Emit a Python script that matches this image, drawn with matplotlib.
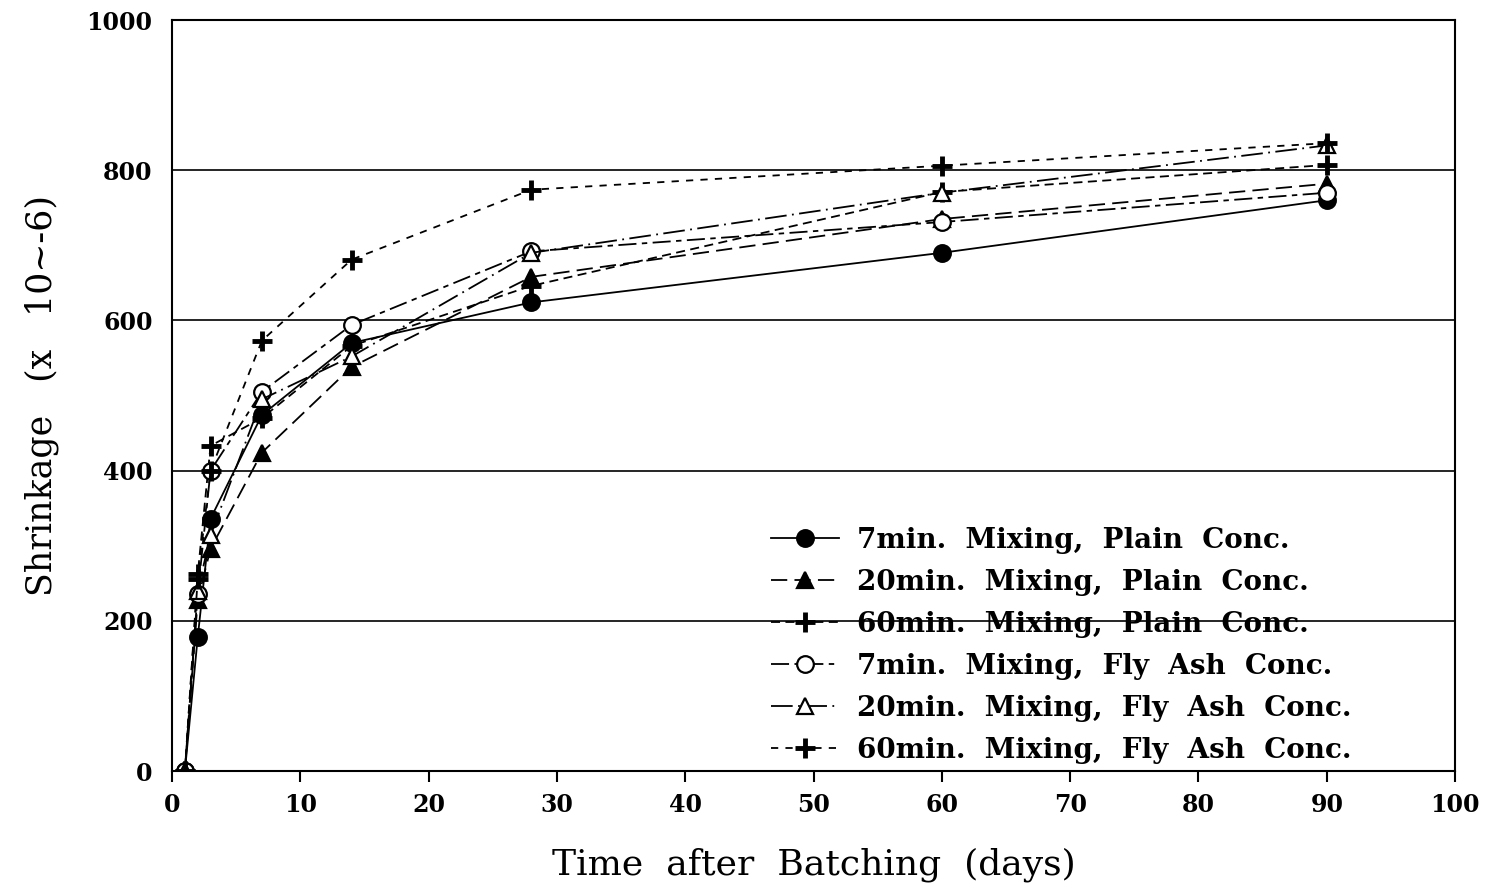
import numpy as np
import matplotlib.pyplot as plt

# days after batching
days = [1, 2, 3, 7, 14, 28, 60, 90]

# shrinkage readings (x 10^-6)
plain_7 = [0, 178, 336, 474, 570, 624, 690, 760]
plain_20 = [0, 228, 296, 424, 538, 658, 735, 782]
plain_60 = [0, 262, 433, 470, 566, 646, 771, 807]
fly_7 = [0, 236, 400, 505, 594, 692, 731, 770]
fly_20 = [0, 240, 314, 495, 552, 690, 770, 833]
fly_60 = [0, 256, 400, 573, 681, 774, 806, 836]

labels = ['7min.  Mixing,  Plain  Conc.',
          '20min.  Mixing,  Plain  Conc.',
          '60min.  Mixing,  Plain  Conc.',
          '7min.  Mixing,  Fly  Ash  Conc.',
          '20min.  Mixing,  Fly  Ash  Conc.',
          '60min.  Mixing,  Fly  Ash  Conc.']

series = [plain_7, plain_20, plain_60, fly_7, fly_20, fly_60]
markers = ['o', '^', '+', 'o', '^', '+']
filled = [True, True, True, False, False, False]
dashes = [None, (9, 4), (5, 3), (10, 3, 3, 3), (12, 3, 1, 3), (4, 4)]

plt.rcParams['font.family'] = ['DejaVu Serif']

fig = plt.figure(figsize=(14.91, 8.85), dpi=100)
ax = fig.add_axes([0.1154, 0.1288, 0.8605, 0.8486])

for y, m, f, d, lab in zip(series, markers, filled, dashes, labels):
    if m == '+':
        kw = dict(markersize=14, markeredgewidth=3.5)
    else:
        kw = dict(markersize=12, markeredgewidth=1.6)
    line, = ax.plot(days, y, color='black', lw=1.3, marker=m,
                    markerfacecolor='black' if f else 'white',
                    markeredgecolor='black', label=lab, **kw)
    if d is not None:
        line.set_dashes(d)

ax.set_xlim(0, 100)
ax.set_ylim(0, 1000)
ax.set_xticks(np.arange(0, 101, 10))
ax.set_yticks(np.arange(0, 1001, 200))
ax.grid(axis='y', color='black', lw=1.2)
ax.set_axisbelow(True)

ax.tick_params(axis='x', direction='out', length=8, width=1.5, pad=8,
               labelsize=17)
ax.tick_params(axis='y', length=0, pad=14, labelsize=17)
for lab in ax.get_xticklabels() + ax.get_yticklabels():
    lab.set_fontweight('bold')
for s in ax.spines.values():
    s.set_linewidth(1.5)

ax.set_xlabel('Time  after  Batching  (days)', fontsize=26, labelpad=22)
ax.set_ylabel('Shrinkage   (x   10~-6)', fontsize=25, labelpad=20)

leg = ax.legend(loc='lower left', bbox_to_anchor=(0.458, -0.005),
                borderaxespad=0, frameon=False, handlelength=2.45,
                handletextpad=0.65, labelspacing=0.54,
                prop={'size': 20, 'weight': 'bold'})

fig.savefig('out.png', dpi=100)
